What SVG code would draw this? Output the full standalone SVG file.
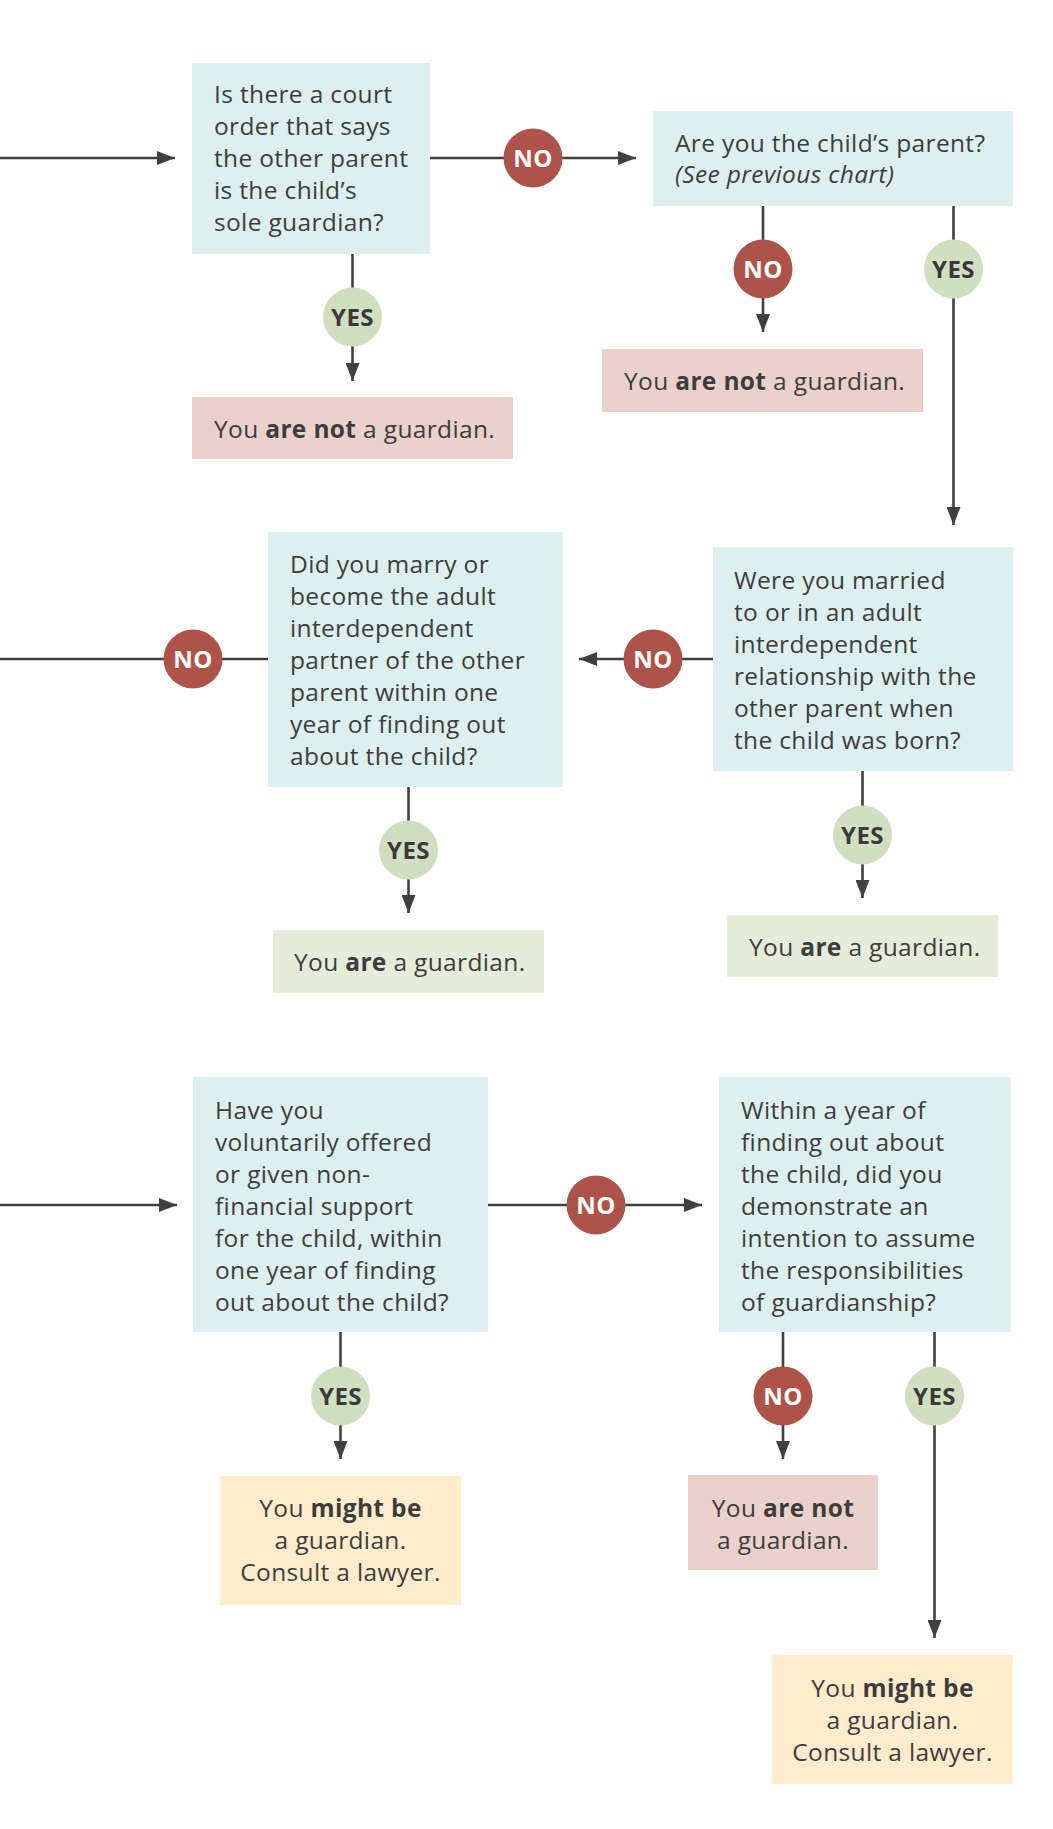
<svg xmlns="http://www.w3.org/2000/svg" width="1053" height="1829" viewBox="0 0 1053 1829">
<style>
.q{fill:#ddf0ef}
.neg{fill:#ebd1cb}
.pos{fill:#e5ecda}
.may{fill:#ffeccc}
.t{font-family:"Open Sans","Noto Sans","DejaVu Sans",sans-serif;font-size:24.5px;letter-spacing:0.35px;fill:#3d3d3d}
.c{text-anchor:middle}
.b{font-weight:700}
.i{font-style:italic}
.no{fill:#ad534a}
.yes{fill:#d0dfbf}
.lbl{font-family:"Open Sans","Noto Sans","DejaVu Sans",sans-serif;font-size:24px;letter-spacing:0.4px;font-weight:700;text-anchor:middle}
.lno{fill:#ffffff}
.lyes{fill:#3a3a3a}
.ln{stroke:#404040;stroke-width:2.6;fill:none}
</style>
<defs>
<marker id="ah" markerUnits="userSpaceOnUse" markerWidth="18" markerHeight="14" refX="18" refY="7" orient="auto">
<path d="M0,0 L18,7 L0,14 z" fill="#404040"/>
</marker>
</defs>
<rect width="1053" height="1829" fill="#ffffff"/>

<g id="connectors">
<line class="ln" x1="0" y1="158" x2="175" y2="158" marker-end="url(#ah)"/>
<line class="ln" x1="430" y1="158" x2="636" y2="158" marker-end="url(#ah)"/>
<line class="ln" x1="352.5" y1="254" x2="352.5" y2="381" marker-end="url(#ah)"/>
<line class="ln" x1="763" y1="206" x2="763" y2="332" marker-end="url(#ah)"/>
<line class="ln" x1="953.5" y1="206" x2="953.5" y2="525" marker-end="url(#ah)"/>
<line class="ln" x1="713" y1="659" x2="579" y2="659" marker-end="url(#ah)"/>
<line class="ln" x1="268" y1="659" x2="0" y2="659"/>
<line class="ln" x1="408.5" y1="787" x2="408.5" y2="913" marker-end="url(#ah)"/>
<line class="ln" x1="862.5" y1="771" x2="862.5" y2="898" marker-end="url(#ah)"/>
<line class="ln" x1="0" y1="1205" x2="177" y2="1205" marker-end="url(#ah)"/>
<line class="ln" x1="488" y1="1205" x2="702" y2="1205" marker-end="url(#ah)"/>
<line class="ln" x1="340.5" y1="1332" x2="340.5" y2="1459" marker-end="url(#ah)"/>
<line class="ln" x1="783" y1="1332" x2="783" y2="1459" marker-end="url(#ah)"/>
<line class="ln" x1="934.5" y1="1332" x2="934.5" y2="1638" marker-end="url(#ah)"/>

<circle class="no" cx="533" cy="158" r="29.5"/><text class="lbl lno" x="533" y="166.5">NO</text>
<circle class="yes" cx="352.5" cy="317" r="29.5"/><text class="lbl lyes" x="352.5" y="325.5">YES</text>
<circle class="no" cx="763" cy="269" r="29.5"/><text class="lbl lno" x="763" y="277.5">NO</text>
<circle class="yes" cx="953.5" cy="269" r="29.5"/><text class="lbl lyes" x="953.5" y="277.5">YES</text>
<circle class="no" cx="653" cy="659" r="29.5"/><text class="lbl lno" x="653" y="667.5">NO</text>
<circle class="no" cx="193" cy="659" r="29.5"/><text class="lbl lno" x="193" y="667.5">NO</text>
<circle class="yes" cx="408.5" cy="850" r="29.5"/><text class="lbl lyes" x="408.5" y="858.5">YES</text>
<circle class="yes" cx="862.5" cy="835" r="29.5"/><text class="lbl lyes" x="862.5" y="843.5">YES</text>
<circle class="no" cx="596" cy="1205" r="29.5"/><text class="lbl lno" x="596" y="1213.5">NO</text>
<circle class="yes" cx="340.5" cy="1396" r="29.5"/><text class="lbl lyes" x="340.5" y="1404.5">YES</text>
<circle class="no" cx="783" cy="1396" r="29.5"/><text class="lbl lno" x="783" y="1404.5">NO</text>
<circle class="yes" cx="934.5" cy="1396" r="29.5"/><text class="lbl lyes" x="934.5" y="1404.5">YES</text>
</g>

<g id="q1">
<rect class="q" x="192" y="63" width="238" height="191"/>
<text class="t" x="214" y="103">Is there a court</text>
<text class="t" x="214" y="135">order that says</text>
<text class="t" x="214" y="167">the other parent</text>
<text class="t" x="214" y="199">is the child’s</text>
<text class="t" x="214" y="231">sole guardian?</text>
</g>

<g id="r1">
<rect class="neg" x="192" y="397" width="321" height="62"/>
<text class="t" x="214" y="438">You <tspan class="b">are not</tspan> a guardian.</text>
</g>

<g id="q2">
<rect class="q" x="653" y="111" width="360" height="95"/>
<text class="t" x="675" y="152">Are you the child’s parent?</text>
<text class="t i" x="675" y="183">(See previous chart)</text>
</g>

<g id="r2">
<rect class="neg" x="602" y="349" width="321" height="63"/>
<text class="t" x="624" y="390">You <tspan class="b">are not</tspan> a guardian.</text>
</g>

<g id="q3">
<rect class="q" x="268" y="532" width="295" height="255"/>
<text class="t" x="290" y="573">Did you marry or</text>
<text class="t" x="290" y="605">become the adult</text>
<text class="t" x="290" y="637">interdependent</text>
<text class="t" x="290" y="669">partner of the other</text>
<text class="t" x="290" y="701">parent within one</text>
<text class="t" x="290" y="733">year of finding out</text>
<text class="t" x="290" y="765">about the child?</text>
</g>

<g id="q4">
<rect class="q" x="713" y="547" width="300" height="224"/>
<text class="t" x="734" y="589">Were you married</text>
<text class="t" x="734" y="621">to or in an adult</text>
<text class="t" x="734" y="653">interdependent</text>
<text class="t" x="734" y="685">relationship with the</text>
<text class="t" x="734" y="717">other parent when</text>
<text class="t" x="734" y="749">the child was born?</text>
</g>

<g id="r3">
<rect class="pos" x="273" y="930" width="271" height="63"/>
<text class="t" x="294" y="971">You <tspan class="b">are</tspan> a guardian.</text>
</g>

<g id="r4">
<rect class="pos" x="727" y="915" width="271" height="62"/>
<text class="t" x="749" y="956">You <tspan class="b">are</tspan> a guardian.</text>
</g>

<g id="q5">
<rect class="q" x="193" y="1077" width="295" height="255"/>
<text class="t" x="215" y="1119">Have you</text>
<text class="t" x="215" y="1151">voluntarily offered</text>
<text class="t" x="215" y="1183">or given non-</text>
<text class="t" x="215" y="1215">financial support</text>
<text class="t" x="215" y="1247">for the child, within</text>
<text class="t" x="215" y="1279">one year of finding</text>
<text class="t" x="215" y="1311">out about the child?</text>
</g>

<g id="q6">
<rect class="q" x="719" y="1077" width="292" height="255"/>
<text class="t" x="741" y="1119">Within a year of</text>
<text class="t" x="741" y="1151">finding out about</text>
<text class="t" x="741" y="1183">the child, did you</text>
<text class="t" x="741" y="1215">demonstrate an</text>
<text class="t" x="741" y="1247">intention to assume</text>
<text class="t" x="741" y="1279">the responsibilities</text>
<text class="t" x="741" y="1311">of guardianship?</text>
</g>

<g id="r5">
<rect class="may" x="220" y="1476" width="241" height="129"/>
<text class="t c" x="340.5" y="1517">You <tspan class="b">might be</tspan></text>
<text class="t c" x="340.5" y="1549">a guardian.</text>
<text class="t c" x="340.5" y="1581">Consult a lawyer.</text>
</g>

<g id="r6">
<rect class="neg" x="688" y="1475" width="190" height="95"/>
<text class="t c" x="783" y="1517">You <tspan class="b">are not</tspan></text>
<text class="t c" x="783" y="1549">a guardian.</text>
</g>

<g id="r7">
<rect class="may" x="772" y="1655" width="241" height="129"/>
<text class="t c" x="892.5" y="1697">You <tspan class="b">might be</tspan></text>
<text class="t c" x="892.5" y="1729">a guardian.</text>
<text class="t c" x="892.5" y="1761">Consult a lawyer.</text>
</g>
</svg>
